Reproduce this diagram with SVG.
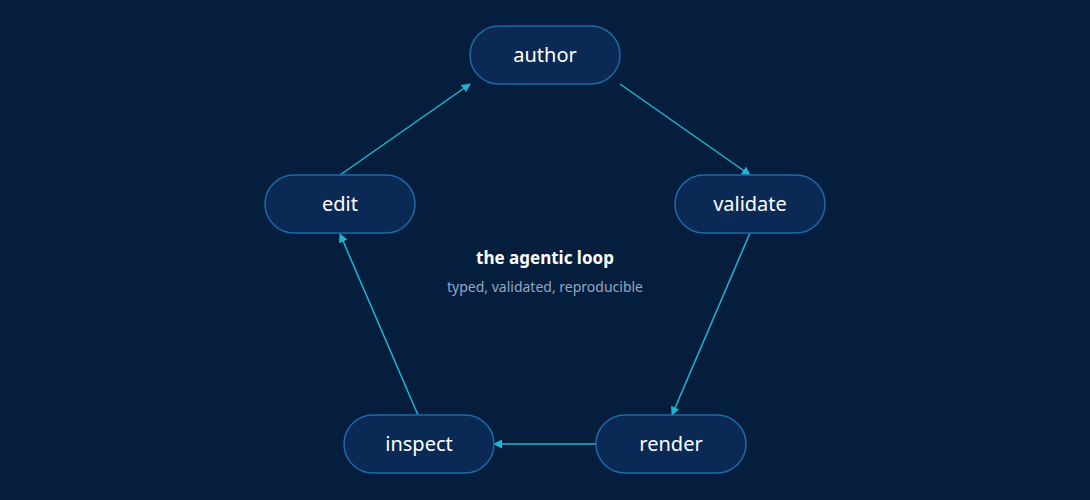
<svg xmlns="http://www.w3.org/2000/svg" width="1090" height="500" viewBox="0 0 1090 500">
<style>
.n rect{fill:#0a2a55;stroke:#1e6aa8;stroke-width:1.5}
.n text{fill:#ffffff;font-family:"Noto Sans","Open Sans",sans-serif;font-size:20px;text-anchor:middle}
.e line{stroke:#1fb5d6;stroke-width:1.5;marker-end:url(#a)}
</style>
<defs><marker id="a" viewBox="0 0 10 10" refX="9" refY="5" markerWidth="6" markerHeight="6" orient="auto-start-reverse"><path d="M0,0L10,5L0,10z" fill="#1fb5d6"/></marker></defs>
<rect width="1090" height="500" fill="#061e3e"/>
<g class="e">
<line x1="620" y1="84" x2="750" y2="175"/>
<line x1="750" y1="233" x2="672" y2="415"/>
<line x1="596" y1="444" x2="494" y2="444"/>
<line x1="418" y1="415" x2="340" y2="234"/>
<line x1="340" y1="175" x2="470" y2="84"/>
</g>
<g id="author" class="n"><rect x="470" y="26" width="150" height="58" rx="29"/><text x="545" y="62">author</text></g>
<g id="validate" class="n"><rect x="675" y="175" width="150" height="58" rx="29"/><text x="750" y="211">validate</text></g>
<g id="edit" class="n"><rect x="265" y="175" width="150" height="58" rx="29"/><text x="340" y="211">edit</text></g>
<g id="inspect" class="n"><rect x="344" y="415" width="150" height="58" rx="29"/><text x="419" y="451">inspect</text></g>
<g id="render" class="n"><rect x="596" y="415" width="150" height="58" rx="29"/><text x="671" y="451">render</text></g>
<text x="545" y="264" text-anchor="middle" font-family="Noto Sans,Open Sans,sans-serif" font-size="17" font-weight="bold" fill="#ffffff">the agentic loop</text>
<text x="545" y="292" text-anchor="middle" font-family="Noto Sans,Open Sans,sans-serif" font-size="14" fill="#8fa8c4">typed, validated, reproducible</text>
</svg>
